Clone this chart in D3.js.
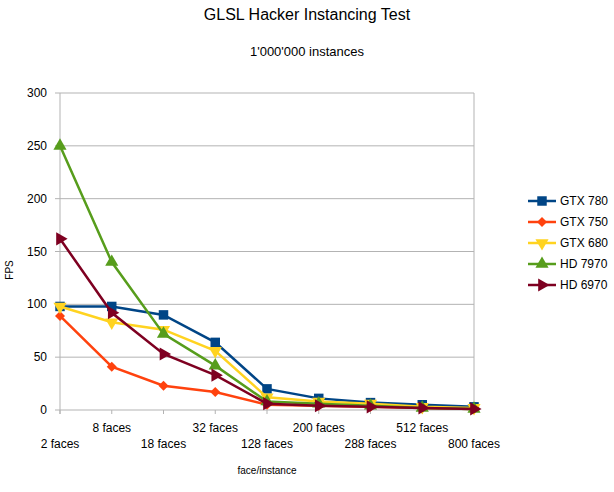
<!DOCTYPE html>
<html><head><meta charset="utf-8">
<script src="https://cdn.jsdelivr.net/npm/d3@7"></script>
<style>body{margin:0;background:#fff}text{font-family:"Liberation Sans",Arial,sans-serif}</style>
</head><body><div id="chart"></div>
<script>
const categories = ["2 faces","8 faces","18 faces","32 faces","128 faces","200 faces","288 faces","512 faces","800 faces"];
const gtx780 = [98, 98, 90, 64, 20, 11, 7, 5, 3];
const gtx750 = [89, 41, 23, 17, 5, 4, 3, 2, 1];
const gtx680 = [98, 83, 76, 56, 12, 8, 6, 3, 2];
const hd7970 = [250, 140, 72, 42, 8, 6, 4, 2, 1];
const hd6970 = [162, 92, 53, 33, 6, 4, 3, 2, 1];
const yTicks = [0, 50, 100, 150, 200, 250, 300];

const series = [
  { name: "GTX 780", values: gtx780, color: "#004586", sym: d3.symbolSquare, rot: 0, size: 90 },
  { name: "GTX 750", values: gtx750, color: "#ff420e", sym: d3.symbolSquare, rot: 45, size: 50 },
  { name: "GTX 680", values: gtx680, color: "#ffd320", sym: d3.symbolTriangle, rot: 180, size: 75 },
  { name: "HD 7970", values: hd7970, color: "#579d1c", sym: d3.symbolTriangle, rot: 0, size: 75 },
  { name: "HD 6970", values: hd6970, color: "#7e0021", sym: d3.symbolTriangle, rot: 90, size: 75 }
];

const W = 614, H = 492;
const svg = d3.select("#chart").append("svg").attr("width", W).attr("height", H);
const x = d3.scalePoint().domain(categories).range([60, 474]);
const y = d3.scaleLinear().domain([0, 300]).range([410, 93]);

svg.append("text").attr("x", 307).attr("y", 20).attr("text-anchor", "middle").attr("font-size", 16).text("GLSL Hacker Instancing Test");
svg.append("text").attr("x", 307).attr("y", 56).attr("text-anchor", "middle").attr("font-size", 13).text("1'000'000 instances");

// grid
svg.append("g").selectAll("line").data(yTicks).enter().append("line")
  .attr("x1", 55).attr("x2", 474).attr("y1", d => y(d)).attr("y2", d => y(d))
  .attr("stroke", "#b3b3b3");
svg.append("line").attr("x1", 474).attr("x2", 474).attr("y1", 93).attr("y2", 410).attr("stroke", "#b3b3b3");
svg.append("line").attr("x1", 60).attr("x2", 60).attr("y1", 93).attr("y2", 414).attr("stroke", "#b3b3b3");
svg.append("g").selectAll("line").data(categories).enter().append("line")
  .attr("x1", d => x(d)).attr("x2", d => x(d)).attr("y1", 410).attr("y2", 414).attr("stroke", "#b3b3b3");

svg.append("g").selectAll("text").data(yTicks).enter().append("text")
  .attr("x", 47).attr("y", d => y(d) + 4).attr("text-anchor", "end").attr("font-size", 12).text(d => d);
svg.append("g").selectAll("text").data(categories).enter().append("text")
  .attr("x", d => x(d)).attr("y", (d, i) => i % 2 ? 432 : 448).attr("text-anchor", "middle").attr("font-size", 12).text(d => d);

svg.append("text").attr("transform", "translate(13,270) rotate(-90)").attr("text-anchor", "middle").attr("font-size", 10).text("FPS");
svg.append("text").attr("x", 267).attr("y", 474).attr("text-anchor", "middle").attr("font-size", 10).text("face/instance");

const line = d3.line().x((d, i) => x(categories[i])).y(d => y(d));
series.forEach(s => {
  const g = svg.append("g");
  g.append("path").datum(s.values).attr("d", line).attr("fill", "none").attr("stroke", s.color).attr("stroke-width", 2.5);
  g.selectAll("path.m").data(s.values).enter().append("path").attr("class", "m")
    .attr("d", d3.symbol().type(s.sym).size(s.size))
    .attr("transform", (d, i) => `translate(${x(categories[i])},${y(d)}) rotate(${s.rot})`)
    .attr("fill", s.color);
});

// legend
const lg = svg.append("g");
series.forEach((s, i) => {
  const yy = 201 + i * 21;
  lg.append("line").attr("x1", 528).attr("x2", 556).attr("y1", yy).attr("y2", yy).attr("stroke", s.color).attr("stroke-width", 2.5);
  lg.append("path").attr("d", d3.symbol().type(s.sym).size(s.size))
    .attr("transform", `translate(542,${yy}) rotate(${s.rot})`).attr("fill", s.color);
  lg.append("text").attr("x", 560).attr("y", yy + 4).attr("font-size", 12).text(s.name);
});
</script></body></html>
